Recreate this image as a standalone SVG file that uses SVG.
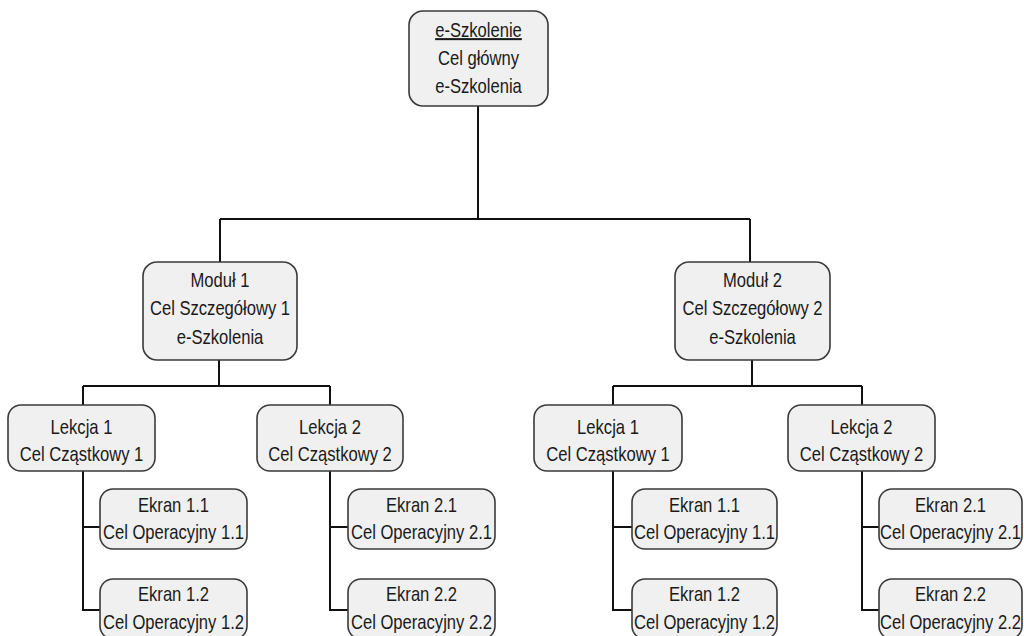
<svg xmlns="http://www.w3.org/2000/svg" width="1024" height="636" viewBox="0 0 1024 636">
<style>
.box{fill:#f0f0f0;stroke:#3a3a3a;stroke-width:1.6}
.t{font-family:"Liberation Sans",Arial,sans-serif;font-size:20.5px;fill:#1a1a1a;text-anchor:middle}
.c{fill:none;stroke:#111;stroke-width:2}
</style>
<rect width="1024" height="636" fill="#fff"/>
<g id="connectors">
<path class="c" d="M478,106V219M220,219H750M220,219V262M750,219V262"/>
<path class="c" d="M219,360V386M83,386H330M83,386V405M330,386V405"/>
<path class="c" d="M752,360V386M613,386H862M613,386V405M862,386V405"/>
<path class="c" d="M83,471V610H100M83,527H100"/>
<path class="c" d="M330,471V610H348M330,527H348"/>
<path class="c" d="M613,471V610H632M613,527H632"/>
<path class="c" d="M862,471V610H879M862,527H879"/>
</g>
<g id="root">
<rect class="box" x="409" y="11" width="139" height="95" rx="14"/>
<text class="t" transform="translate(478.5,37) scale(0.81,1)" text-decoration="underline">e-Szkolenie</text>
<text class="t" transform="translate(478.5,65) scale(0.81,1)">Cel główny</text>
<text class="t" transform="translate(478.5,93) scale(0.81,1)">e-Szkolenia</text>
</g>
<g id="modul1">
<rect class="box" x="143" y="262" width="154" height="98" rx="14"/>
<text class="t" transform="translate(220,287) scale(0.81,1)">Moduł 1</text>
<text class="t" transform="translate(220,315) scale(0.81,1)">Cel Szczegółowy 1</text>
<text class="t" transform="translate(220,344) scale(0.81,1)">e-Szkolenia</text>
</g>
<g id="modul2">
<rect class="box" x="675" y="262" width="155" height="98" rx="14"/>
<text class="t" transform="translate(752.5,287) scale(0.81,1)">Moduł 2</text>
<text class="t" transform="translate(752.5,315) scale(0.81,1)">Cel Szczegółowy 2</text>
<text class="t" transform="translate(752.5,344) scale(0.81,1)">e-Szkolenia</text>
</g>
<g id="m1-lekcja1">
<rect class="box" x="8" y="405" width="147" height="66" rx="13"/>
<text class="t" transform="translate(81.5,434) scale(0.81,1)">Lekcja 1</text>
<text class="t" transform="translate(81.5,461) scale(0.81,1)">Cel Cząstkowy 1</text>
</g>
<g id="m1-lekcja2">
<rect class="box" x="257" y="405" width="146" height="66" rx="13"/>
<text class="t" transform="translate(330,434) scale(0.81,1)">Lekcja 2</text>
<text class="t" transform="translate(330,461) scale(0.81,1)">Cel Cząstkowy 2</text>
</g>
<g id="m2-lekcja1">
<rect class="box" x="534" y="405" width="148" height="66" rx="13"/>
<text class="t" transform="translate(608,434) scale(0.81,1)">Lekcja 1</text>
<text class="t" transform="translate(608,461) scale(0.81,1)">Cel Cząstkowy 1</text>
</g>
<g id="m2-lekcja2">
<rect class="box" x="788" y="405" width="147" height="66" rx="13"/>
<text class="t" transform="translate(861.5,434) scale(0.81,1)">Lekcja 2</text>
<text class="t" transform="translate(861.5,461) scale(0.81,1)">Cel Cząstkowy 2</text>
</g>
<g id="m1-ekran11">
<rect class="box" x="100" y="489" width="147" height="60" rx="13"/>
<text class="t" transform="translate(173.5,512) scale(0.81,1)">Ekran 1.1</text>
<text class="t" transform="translate(173.5,539) scale(0.81,1)">Cel Operacyjny 1.1</text>
</g>
<g id="m1-ekran12">
<rect class="box" x="100" y="579" width="147" height="60" rx="13"/>
<text class="t" transform="translate(173.5,601) scale(0.81,1)">Ekran 1.2</text>
<text class="t" transform="translate(173.5,629) scale(0.81,1)">Cel Operacyjny 1.2</text>
</g>
<g id="m1-ekran21">
<rect class="box" x="348" y="489" width="147" height="60" rx="13"/>
<text class="t" transform="translate(421.5,512) scale(0.81,1)">Ekran 2.1</text>
<text class="t" transform="translate(421.5,539) scale(0.81,1)">Cel Operacyjny 2.1</text>
</g>
<g id="m1-ekran22">
<rect class="box" x="348" y="579" width="147" height="60" rx="13"/>
<text class="t" transform="translate(421.5,601) scale(0.81,1)">Ekran 2.2</text>
<text class="t" transform="translate(421.5,629) scale(0.81,1)">Cel Operacyjny 2.2</text>
</g>
<g id="m2-ekran11">
<rect class="box" x="632" y="489" width="145" height="60" rx="13"/>
<text class="t" transform="translate(704.5,512) scale(0.81,1)">Ekran 1.1</text>
<text class="t" transform="translate(704.5,539) scale(0.81,1)">Cel Operacyjny 1.1</text>
</g>
<g id="m2-ekran12">
<rect class="box" x="632" y="579" width="145" height="60" rx="13"/>
<text class="t" transform="translate(704.5,601) scale(0.81,1)">Ekran 1.2</text>
<text class="t" transform="translate(704.5,629) scale(0.81,1)">Cel Operacyjny 1.2</text>
</g>
<g id="m2-ekran21">
<rect class="box" x="879" y="489" width="143" height="60" rx="13"/>
<text class="t" transform="translate(950.5,512) scale(0.81,1)">Ekran 2.1</text>
<text class="t" transform="translate(950.5,539) scale(0.81,1)">Cel Operacyjny 2.1</text>
</g>
<g id="m2-ekran22">
<rect class="box" x="879" y="579" width="143" height="60" rx="13"/>
<text class="t" transform="translate(950.5,601) scale(0.81,1)">Ekran 2.2</text>
<text class="t" transform="translate(950.5,629) scale(0.81,1)">Cel Operacyjny 2.2</text>
</g>
</svg>
